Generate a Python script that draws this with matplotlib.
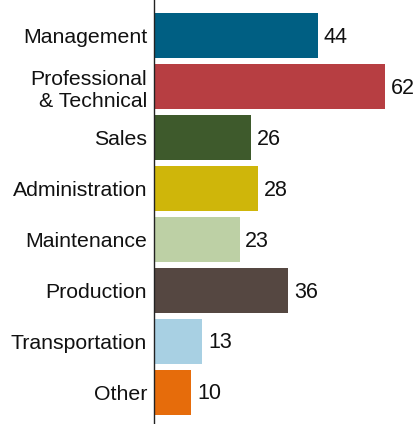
import matplotlib
matplotlib.use("Agg")
import matplotlib.pyplot as plt

categories = ["Management", "Professional\n& Technical", "Sales", "Administration",
              "Maintenance", "Production", "Transportation", "Other"]
values = [44, 62, 26, 28, 23, 36, 13, 10]
colors = ["#005f83", "#b73e42", "#3e5a2c", "#cfb60a",
          "#bdd0a5", "#554741", "#a8d0e3", "#e66c0b"]

plt.rcParams['font.family'] = ['Liberation Sans', 'DejaVu Sans']

fig = plt.figure(figsize=(4.15, 4.24), dpi=100)
ax = fig.add_axes([154 / 415, 0, 1 - 154 / 415, 1])

pos = list(range(len(categories)))
ax.barh(pos, values, height=0.88, color=colors)
for p, v in zip(pos, values):
    ax.text(v + 1.5, p + 0.03, str(v), va="center", ha="left", fontsize=15.5, color="#111111")

ax.set_xlim(0, 70)
ax.set_ylim(7.62, -0.7)
ax.set_yticks(pos)
ax.set_yticklabels(categories, fontsize=15.3, color="#111111", linespacing=1.2)
ax.tick_params(axis="y", length=0, pad=5)
ax.set_xticks([])
for s in ["top", "right", "bottom"]:
    ax.spines[s].set_visible(False)
ax.spines["left"].set_color("#222222")
ax.spines["left"].set_linewidth(1.0)

fig.savefig("out.png", dpi=100)
